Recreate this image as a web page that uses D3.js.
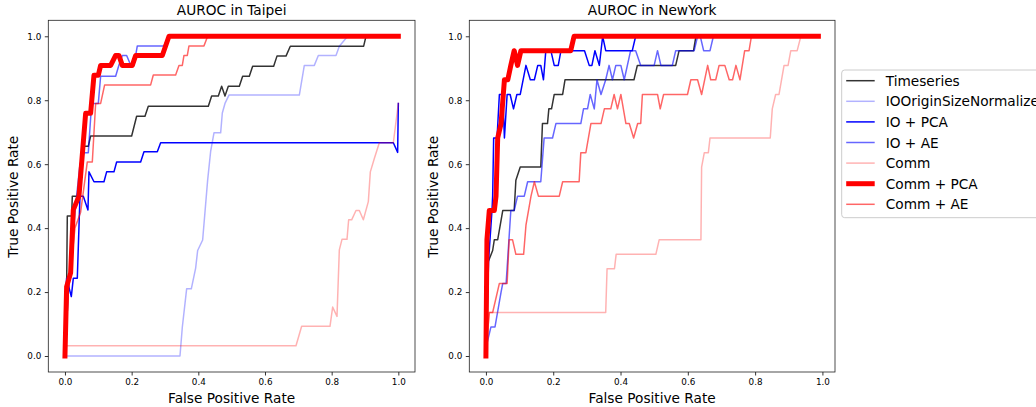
<!DOCTYPE html>
<html>
<head>
<meta charset="utf-8">
<script src="https://cdn.jsdelivr.net/npm/d3@7"></script>
<style>
body { margin: 0; background: #fff; }
text { font-family: "DejaVu Sans", sans-serif; fill: #000; }
</style>
</head>
<body>
<svg id="chart" width="1036" height="407"></svg>
<script>
// ---- data: [FPR, TPR] points ----
var seriesNames = ["Timeseries", "IOOriginSizeNormalize", "IO + PCA", "IO + AE", "Comm", "Comm + PCA", "Comm + AE"];
var panelTitles = ["AUROC in Taipei", "AUROC in NewYork"];
var xTicks = [0, 0.2, 0.4, 0.6, 0.8, 1.0];
var yTicks = [0, 0.2, 0.4, 0.6, 0.8, 1.0];

var taipeiTimeseries = [[0,0],[0.005,0.22],[0.007,0.438],[0.02,0.438],[0.022,0.5],[0.037,0.5],[0.055,0.656],[0.07,0.656],[0.077,0.688],[0.2,0.688],[0.215,0.75],[0.24,0.75],[0.25,0.781],[0.43,0.781],[0.44,0.813],[0.46,0.813],[0.47,0.844],[0.48,0.813],[0.49,0.844],[0.523,0.844],[0.533,0.875],[0.553,0.875],[0.563,0.906],[0.626,0.906],[0.636,0.938],[0.663,0.938],[0.676,0.969],[0.896,0.969],[0.903,1],[1,1]];
var taipeiIOOrigin = [[0,0],[0.345,0],[0.352,0.09],[0.365,0.21],[0.379,0.21],[0.392,0.275],[0.398,0.33],[0.413,0.363],[0.428,0.55],[0.437,0.64],[0.447,0.698],[0.467,0.698],[0.472,0.76],[0.48,0.79],[0.492,0.816],[0.703,0.816],[0.718,0.909],[0.748,0.909],[0.76,0.94],[0.813,0.94],[0.823,0.969],[0.848,1],[1,1]];
var taipeiIOPCA = [[0,0],[0.003,0.21],[0.005,0.243],[0.019,0.186],[0.025,0.243],[0.037,0.243],[0.045,0.5],[0.055,0.5],[0.069,0.457],[0.072,0.576],[0.087,0.545],[0.117,0.545],[0.125,0.576],[0.147,0.576],[0.155,0.607],[0.227,0.607],[0.237,0.639],[0.277,0.639],[0.287,0.667],[0.985,0.667],[0.998,0.637],[1,0.79]];
var taipeiIOAE = [[0,0],[0.01,0.2],[0.03,0.45],[0.045,0.6],[0.057,0.636],[0.07,0.636],[0.08,0.79],[0.1,0.79],[0.107,0.875],[0.152,0.875],[0.162,0.91],[0.172,0.94],[0.185,0.94],[0.197,0.91],[0.207,0.91],[0.217,0.97],[0.297,0.97],[0.31,1],[1,1]];
var taipeiComm = [[0,0],[0.002,0.032],[0.693,0.032],[0.71,0.093],[0.795,0.093],[0.803,0.153],[0.816,0.124],[0.823,0.332],[0.831,0.365],[0.846,0.365],[0.851,0.426],[0.86,0.426],[0.873,0.455],[0.883,0.455],[0.895,0.426],[0.91,0.483],[0.916,0.576],[0.928,0.618],[0.943,0.667],[0.985,0.667],[1,0.79]];
var taipeiCommPCA = [[0,0],[0.005,0.217],[0.017,0.26],[0.025,0.457],[0.042,0.5],[0.062,0.759],[0.077,0.759],[0.087,0.878],[0.1,0.878],[0.107,0.909],[0.137,0.909],[0.152,0.94],[0.162,0.94],[0.172,0.909],[0.202,0.909],[0.212,0.94],[0.292,0.94],[0.312,1],[1,1]];
var taipeiCommAE = [[0,0],[0.01,0.2],[0.03,0.4],[0.047,0.45],[0.067,0.607],[0.082,0.607],[0.092,0.79],[0.107,0.79],[0.119,0.848],[0.257,0.848],[0.265,0.879],[0.332,0.879],[0.342,0.909],[0.352,0.909],[0.357,0.94],[0.367,0.94],[0.372,0.97],[0.417,0.97],[0.428,1],[1,1]];

var nyTimeseries = [[0,0],[0.003,0.2],[0.005,0.29],[0.02,0.33],[0.025,0.364],[0.035,0.364],[0.05,0.455],[0.084,0.455],[0.089,0.55],[0.102,0.591],[0.163,0.591],[0.168,0.727],[0.183,0.727],[0.187,0.773],[0.195,0.773],[0.203,0.818],[0.228,0.818],[0.235,0.864],[0.44,0.864],[0.45,0.909],[0.564,0.909],[0.574,0.955],[0.617,0.955],[0.624,1],[0.988,1]];
// no IOOriginSizeNormalize curve is visible in the NewYork panel
var nyIOOrigin = [];
var nyIOPCA = [[0,0],[0.008,0.3],[0.018,0.455],[0.02,0.5],[0.023,0.682],[0.033,0.682],[0.04,0.818],[0.05,0.818],[0.055,0.682],[0.063,0.818],[0.072,0.818],[0.082,0.773],[0.092,0.818],[0.102,0.818],[0.119,0.909],[0.132,0.864],[0.144,0.864],[0.154,0.909],[0.163,0.909],[0.171,0.864],[0.178,0.955],[0.193,0.955],[0.203,0.909],[0.215,0.909],[0.223,0.955],[0.293,0.955],[0.307,0.909],[0.315,0.909],[0.324,0.955],[0.337,0.909],[0.347,1],[0.356,0.955],[0.435,0.955],[0.445,1],[0.988,1]];
var nyIOAE = [[0,0],[0.001,0.03],[0.015,0.091],[0.027,0.091],[0.045,0.2],[0.05,0.227],[0.06,0.227],[0.074,0.455],[0.084,0.455],[0.094,0.5],[0.114,0.5],[0.124,0.545],[0.163,0.545],[0.173,0.682],[0.198,0.682],[0.208,0.727],[0.282,0.727],[0.29,0.773],[0.302,0.773],[0.31,0.818],[0.322,0.773],[0.33,0.864],[0.342,0.818],[0.356,0.864],[0.366,0.909],[0.376,0.864],[0.386,0.909],[0.401,0.909],[0.411,0.864],[0.43,0.955],[0.445,0.955],[0.46,0.909],[0.5,0.909],[0.51,0.955],[0.52,0.909],[0.554,0.909],[0.564,0.955],[0.619,0.955],[0.629,1],[0.637,1],[0.647,0.955],[0.666,0.955],[0.676,1],[0.988,1]];
var nyComm = [[0,0],[0.003,0.05],[0.01,0.136],[0.356,0.136],[0.36,0.273],[0.382,0.273],[0.387,0.318],[0.505,0.318],[0.515,0.364],[0.639,0.364],[0.641,0.591],[0.649,0.636],[0.661,0.636],[0.666,0.682],[0.845,0.682],[0.851,0.773],[0.861,0.818],[0.871,0.818],[0.886,0.909],[0.898,0.909],[0.906,0.955],[0.925,0.955],[0.936,1],[0.988,1]];
var nyCommPCA = [[0,0],[0.003,0.364],[0.01,0.455],[0.025,0.455],[0.03,0.5],[0.035,0.682],[0.045,0.727],[0.055,0.864],[0.065,0.864],[0.074,0.909],[0.084,0.955],[0.094,0.909],[0.104,0.955],[0.252,0.955],[0.262,1],[0.988,1]];
var nyCommAE = [[0,0],[0.003,0.05],[0.01,0.136],[0.02,0.136],[0.04,0.227],[0.063,0.227],[0.069,0.364],[0.079,0.364],[0.089,0.318],[0.112,0.318],[0.119,0.409],[0.134,0.5],[0.144,0.545],[0.156,0.5],[0.218,0.5],[0.228,0.545],[0.277,0.545],[0.282,0.636],[0.297,0.636],[0.312,0.727],[0.342,0.727],[0.352,0.773],[0.371,0.773],[0.381,0.818],[0.391,0.773],[0.401,0.818],[0.416,0.727],[0.426,0.727],[0.439,0.682],[0.451,0.727],[0.46,0.727],[0.465,0.818],[0.51,0.818],[0.518,0.773],[0.528,0.818],[0.599,0.818],[0.609,0.864],[0.629,0.864],[0.641,0.818],[0.659,0.909],[0.668,0.864],[0.683,0.864],[0.693,0.909],[0.71,0.909],[0.723,0.864],[0.733,0.864],[0.743,0.909],[0.755,0.864],[0.769,0.955],[0.782,0.955],[0.789,1],[0.988,1]];

var taipeiCurves = [taipeiTimeseries, taipeiIOOrigin, taipeiIOPCA, taipeiIOAE, taipeiComm, taipeiCommPCA, taipeiCommAE];
var nyCurves = [nyTimeseries, nyIOOrigin, nyIOPCA, nyIOAE, nyComm, nyCommPCA, nyCommAE];

// ---- styles ----
var lineStyles = [
    {color: "#000000", opacity: 0.8, width: 1.5},
    {color: "#0000ff", opacity: 0.3, width: 1.5},
    {color: "#0000ff", opacity: 1.0, width: 1.5},
    {color: "#0000ff", opacity: 0.6, width: 1.5},
    {color: "#ff0000", opacity: 0.3, width: 1.5},
    {color: "#ff0000", opacity: 1.0, width: 5},
    {color: "#ff0000", opacity: 0.6, width: 1.5}
];

var svg = d3.select("#chart");
var panels = [
    {title: panelTitles[0], curves: taipeiCurves, left: 48.3, right: 415, offset: 0},
    {title: panelTitles[1], curves: nyCurves, left: 469.3, right: 835, offset: 420}
];
var plotTop = 20.3, plotBottom = 372;

panels.forEach(function(p) {
    var xMax = d3.max(p.curves, c => d3.max(c, d => d[0]));
    var xScale = d3.scaleLinear().domain([-0.05 * xMax, 1.05 * xMax]).range([p.left, p.right]);
    var yScale = d3.scaleLinear().domain([-0.05, 1.05]).range([plotBottom, plotTop]);

    var g = svg.append("g");

    var line = d3.line()
        .x(d => xScale(d[0]))
        .y(d => yScale(d[1]));

    var clipId = "clip" + p.offset;
    svg.append("clipPath").attr("id", clipId)
        .append("rect")
        .attr("x", p.left).attr("y", plotTop)
        .attr("width", p.right - p.left).attr("height", plotBottom - plotTop);

    g.append("g").attr("clip-path", "url(#" + clipId + ")")
        .selectAll("path")
        .data(p.curves)
        .enter().append("path")
        .attr("d", d => d.length ? line(d) : null)
        .attr("fill", "none")
        .attr("stroke", (d, i) => lineStyles[i].color)
        .attr("stroke-opacity", (d, i) => lineStyles[i].opacity)
        .attr("stroke-width", (d, i) => lineStyles[i].width)
        .attr("stroke-linejoin", "round")
        .attr("stroke-linecap", "square");

    // axes
    var xAxis = g.append("g")
        .attr("transform", "translate(0," + plotBottom + ")")
        .call(d3.axisBottom(xScale).tickValues(xTicks).tickFormat(d3.format(".1f")).tickSize(3.5).tickPadding(3.5));
    var yAxis = g.append("g")
        .attr("transform", "translate(" + p.left + ",0)")
        .call(d3.axisLeft(yScale).tickValues(yTicks).tickFormat(d3.format(".1f")).tickSize(3.5).tickPadding(3.5));
    [xAxis, yAxis].forEach(function(a) {
        a.select(".domain").remove();
        a.selectAll(".tick line").attr("stroke", "#000").attr("stroke-width", 0.8);
        a.selectAll(".tick text").attr("font-size", "8.8px").attr("font-family", "DejaVu Sans").attr("fill", "#000");
    });

    // frame
    g.append("rect")
        .attr("x", p.left).attr("y", plotTop)
        .attr("width", p.right - p.left).attr("height", plotBottom - plotTop)
        .attr("fill", "none").attr("stroke", "#222").attr("stroke-width", 0.8);

    var cx = (p.left + p.right) / 2;
    g.append("text")
        .attr("x", cx).attr("y", 15)
        .attr("text-anchor", "middle")
        .attr("font-size", "13.7px")
        .text(p.title);
    g.append("text")
        .attr("x", cx).attr("y", 403)
        .attr("text-anchor", "middle")
        .attr("font-size", "13.7px")
        .text("False Positive Rate");
    g.append("text")
        .attr("transform", "translate(" + (p.offset + 18.3) + ",196.7) rotate(-90)")
        .attr("text-anchor", "middle")
        .attr("font-size", "13.7px")
        .text("True Positive Rate");
});

// legend
var legend = svg.append("g").attr("transform", "translate(841.7,70)");
legend.append("rect")
    .attr("x", 0).attr("y", 0)
    .attr("width", 230).attr("height", 147.7)
    .attr("rx", 3)
    .attr("fill", "#fff").attr("fill-opacity", 0.8)
    .attr("stroke", "#cccccc").attr("stroke-width", 1);

var rows = legend.selectAll(".row")
    .data(seriesNames)
    .enter().append("g")
    .attr("class", "row")
    .attr("transform", (d, i) => "translate(0," + (10.7 + i * 20.6) + ")");
rows.append("line")
    .attr("x1", 4.5).attr("x2", 33)
    .attr("stroke", (d, i) => lineStyles[i].color)
    .attr("stroke-opacity", (d, i) => lineStyles[i].opacity)
    .attr("stroke-width", (d, i) => lineStyles[i].width);
rows.append("text")
    .attr("x", 44)
    .attr("y", 5)
    .attr("font-size", "13.7px")
    .text(d => d);
</script>
</body>
</html>
